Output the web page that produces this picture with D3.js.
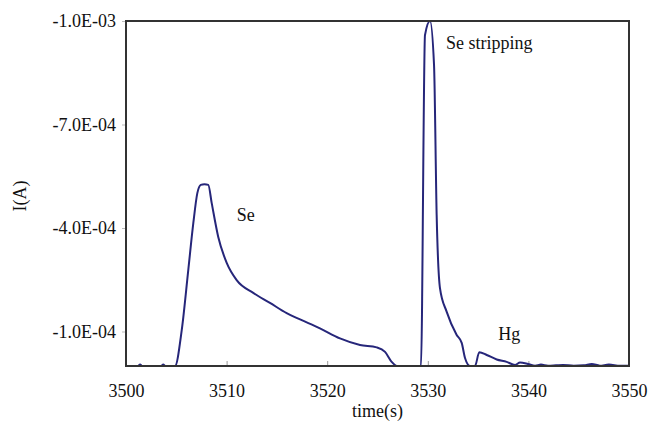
<!doctype html>
<html lang="en">
<head>
    <meta charset="UTF-8">
    <title>Se stripping</title>
    <script src="https://d3js.org/d3.v7.min.js"></script>
    <style>
        body { margin: 0; background: white; }
        .label { font: 18px "Liberation Serif", serif; fill: #111; }
        .tick text { font: 18px "Liberation Serif", serif; fill: #111; }
    </style>
</head>
<body>
<svg id="svg1" width="654" height="425"></svg>
<script>
    // time (s) and current (A)
    var times = [3500, 3501.2, 3501.4, 3501.6, 3503.5, 3503.7, 3503.9, 3504.87, 3505.54, 3506.19, 3506.69, 3507.09,
        3507.43, 3507.8, 3508.18, 3508.52, 3509.17, 3510.01, 3511.0, 3512.65, 3514.31, 3515.97, 3517.3,
        3519.28, 3521.27, 3523.26, 3524.92, 3525.75, 3526.41, 3526.91, 3528.56, 3529.32, 3529.72, 3530.22,
        3530.62, 3530.88, 3531.21, 3531.88, 3532.87, 3533.37, 3533.7, 3534.19, 3534.69, 3535.12, 3535.86,
        3536.85, 3537.84, 3538.67, 3539.17, 3539.96, 3540.66, 3541.25, 3541.95, 3542.74, 3543.44, 3544.5,
        3545.5, 3546.3, 3547.1, 3548.0, 3549.1, 3550];
    var current = [0, 0, -0.04e-4, 0, 0, -0.04e-4, 0, 0, -1.04e-4, -2.78e-4, -4.14e-4, -5.01e-4,
        -5.25e-4, -5.27e-4, -5.25e-4, -4.72e-4, -3.74e-4, -2.99e-4, -2.49e-4, -2.12e-4, -1.83e-4, -1.53e-4, -1.35e-4,
        -1.09e-4, -0.80e-4, -0.61e-4, -0.54e-4, -0.41e-4, -0.12e-4, 0, 0, 0, -9.59e-4, -10.0e-4,
        -8.72e-4, -4.38e-4, -2.26e-4, -1.57e-4, -0.90e-4, -0.67e-4, -0.23e-4, 0, 0, -0.40e-4, -0.32e-4,
        -0.19e-4, -0.12e-4, -0.03e-4, -0.10e-4, -0.06e-4, -0.01e-4, -0.04e-4, -0.01e-4, -0.02e-4, -0.03e-4, -0.01e-4,
        -0.02e-4, -0.06e-4, -0.01e-4, -0.04e-4, -0.01e-4, -0.01e-4];

    var xTicks = [3500, 3510, 3520, 3530, 3540, 3550];
    var yTicks = [-1.0e-4, -4.0e-4, -7.0e-4, -1.0e-3];

    var peakLabels = ["Se", "Se stripping", "Hg"];
    var peakLabelT = [3511, 3531.8, 3537];
    var peakLabelI = [-4.2e-4, -9.2e-4, -0.75e-4];

    var plotLeft = 126, plotRight = 629, plotTop = 21, plotBottom = 366;

    var xScale = d3.scaleLinear().domain([3500, 3550]).range([plotLeft, plotRight]);
    var yScale = d3.scaleLinear().domain([0, -1e-3]).range([plotBottom, plotTop]);

    function sciFormat(v) {
        var s = v.toExponential(1).toUpperCase();
        var parts = s.split("E");
        var exp = +parts[1];
        var sign = exp < 0 ? "-" : "+";
        var e = Math.abs(exp);
        return parts[0] + "E" + sign + (e < 10 ? "0" + e : e);
    }

    var svg = d3.select("#svg1");

    var xAxis = d3.axisBottom(xScale).tickValues(xTicks).tickSize(-5).tickPadding(16).tickFormat(d3.format("d"));
    var gx = svg.append("g")
        .attr("transform", "translate(0," + plotBottom + ")")
        .call(xAxis);
    gx.select(".domain").remove();
    gx.selectAll(".tick line").attr("stroke", "#999");
    gx.selectAll(".tick text").attr("dy", "0.85em");

    var yAxis = d3.axisLeft(yScale).tickValues(yTicks).tickSize(4).tickPadding(6).tickFormat(sciFormat);
    var gy = svg.append("g")
        .attr("transform", "translate(" + plotLeft + ",0)")
        .call(yAxis);
    gy.select(".domain").remove();
    gy.selectAll(".tick line").attr("stroke", "#bbb");

    var pts = times.map(function (t, i) { return [t, current[i]]; });
    var line = d3.line()
        .x(function (d) { return xScale(d[0]); })
        .y(function (d) { return yScale(d[1]); })
        .curve(d3.curveMonotoneX);

    svg.append("path")
        .datum(pts)
        .attr("d", line)
        .attr("fill", "none")
        .attr("stroke", "#26267a")
        .attr("stroke-width", 2);

    // frame
    svg.append("rect")
        .attr("x", plotLeft)
        .attr("y", plotTop)
        .attr("width", plotRight - plotLeft)
        .attr("height", plotBottom - plotTop)
        .attr("fill", "none")
        .attr("stroke", "#333")
        .attr("stroke-width", 2);

    svg.selectAll(".peak")
        .data(peakLabels)
        .enter()
        .append("text")
        .attr("class", "label peak")
        .attr("x", function (d, i) { return xScale(peakLabelT[i]); })
        .attr("y", function (d, i) { return yScale(peakLabelI[i]); })
        .text(function (d) { return d; });

    svg.append("text")
        .attr("class", "label")
        .attr("x", (plotLeft + plotRight) / 2)
        .attr("y", 417)
        .style("text-anchor", "middle")
        .text("time(s)");

    svg.append("text")
        .attr("class", "label")
        .attr("transform", "rotate(-90)")
        .attr("x", -196)
        .attr("y", 26)
        .style("text-anchor", "middle")
        .text("I(A)");
</script>
</body>
</html>
